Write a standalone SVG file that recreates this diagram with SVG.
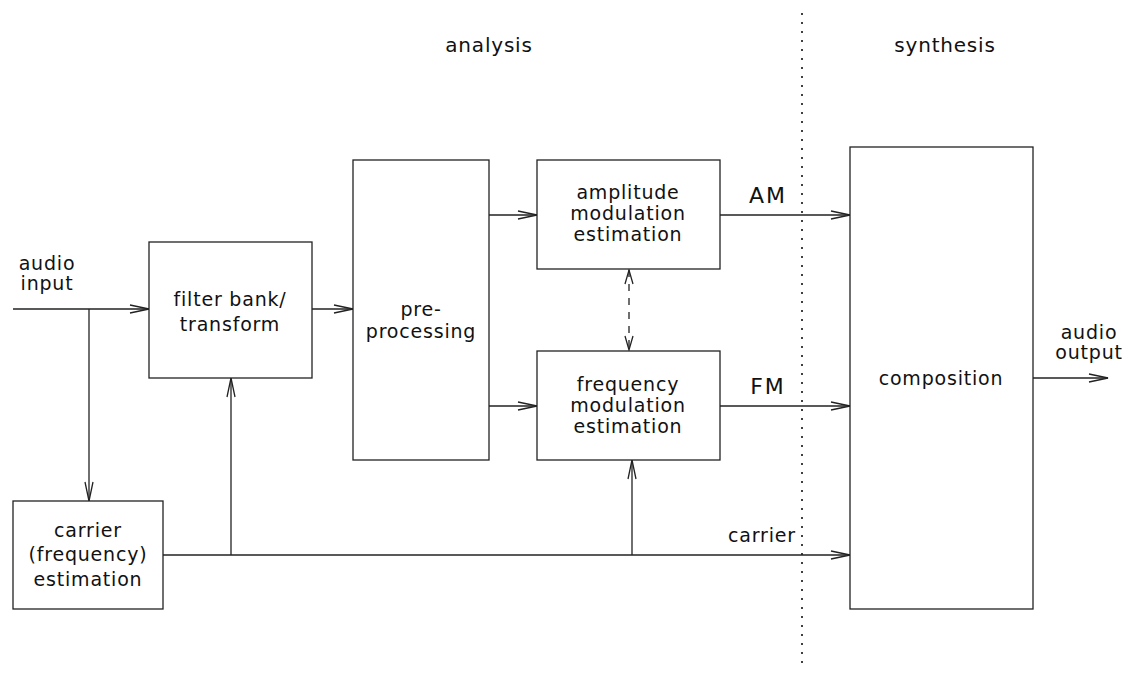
<svg xmlns="http://www.w3.org/2000/svg" width="1122" height="673" viewBox="0 0 1122 673">
  <style>
    .box { fill: #fff; stroke: #222; stroke-width: 1.3; }
    .wire { fill: none; stroke: #222; stroke-width: 1.3; }
    .dash { fill: none; stroke: #222; stroke-width: 1.3; stroke-dasharray: 7 7; }
    .divider { fill: none; stroke: #111; stroke-width: 1.6; stroke-dasharray: 2 7; }
    text { font-family: "DejaVu Sans", "Liberation Sans", sans-serif; font-size: 19px; letter-spacing: 0.8px; fill: #111; text-anchor: middle; }
    .head { font-size: 20px; }
    .sig { font-size: 22px; letter-spacing: 2px; }
  </style>
  <defs>
    <marker id="open" markerUnits="userSpaceOnUse" markerWidth="24" markerHeight="12" viewBox="-21 -6 24 12" refX="0" refY="0" orient="auto-start-reverse">
      <path d="M-19,-4 L0,0 L-19,4" fill="none" stroke="#222" stroke-width="1.3"/>
    </marker>
    <marker id="openSmall" markerUnits="userSpaceOnUse" markerWidth="18" markerHeight="12" viewBox="-15 -6 18 12" refX="0" refY="0" orient="auto-start-reverse">
      <path d="M-14,-4 L0,0 L-14,4" fill="none" stroke="#222" stroke-width="1.3"/>
    </marker>
  </defs>

  <!-- section headings and the analysis/synthesis divider -->
  <text class="head" x="489" y="52">analysis</text>
  <text class="head" x="945" y="52">synthesis</text>
  <line class="divider" x1="802" y1="13" x2="802" y2="670"/>

  <!-- connectors -->
  <g id="connectors">
    <line class="wire" x1="13" y1="309" x2="149" y2="309" marker-end="url(#open)"/>
    <line class="wire" x1="89" y1="309" x2="89" y2="501" marker-end="url(#open)"/>
    <line class="wire" x1="312" y1="309" x2="353" y2="309" marker-end="url(#open)"/>
    <line class="wire" x1="489" y1="215" x2="537" y2="215" marker-end="url(#open)"/>
    <line class="wire" x1="489" y1="406" x2="537" y2="406" marker-end="url(#open)"/>
    <line class="wire" x1="720" y1="215" x2="850" y2="215" marker-end="url(#open)"/>
    <line class="wire" x1="720" y1="406" x2="850" y2="406" marker-end="url(#open)"/>
    <line class="wire" x1="163" y1="555" x2="850" y2="555" marker-end="url(#open)"/>
    <line class="wire" x1="231" y1="555" x2="231" y2="378" marker-end="url(#open)"/>
    <line class="wire" x1="632" y1="555" x2="632" y2="460" marker-end="url(#open)"/>
    <line class="wire" x1="1033" y1="378" x2="1108" y2="378" marker-end="url(#open)"/>
    <line class="dash" x1="629" y1="270" x2="629" y2="350" marker-start="url(#openSmall)" marker-end="url(#openSmall)"/>
    <text x="47" y="270">audio</text>
    <text x="47" y="290">input</text>
    <text class="sig" x="768" y="203">AM</text>
    <text class="sig" x="768" y="394">FM</text>
    <text x="762" y="542">carrier</text>
    <text x="1089" y="339">audio</text>
    <text x="1089" y="359">output</text>
  </g>

  <g id="filterbank">
    <rect class="box" x="149" y="242" width="163" height="136"/>
    <text x="230" y="306">filter bank/</text>
    <text x="230" y="331">transform</text>
  </g>

  <g id="preprocessing">
    <rect class="box" x="353" y="160" width="136" height="300"/>
    <text x="421" y="316">pre-</text>
    <text x="421" y="338">processing</text>
  </g>

  <g id="am-estimation">
    <rect class="box" x="537" y="160" width="183" height="109"/>
    <text x="628" y="199">amplitude</text>
    <text x="628" y="220">modulation</text>
    <text x="628" y="241">estimation</text>
  </g>

  <g id="fm-estimation">
    <rect class="box" x="537" y="351" width="183" height="109"/>
    <text x="628" y="391">frequency</text>
    <text x="628" y="412">modulation</text>
    <text x="628" y="433">estimation</text>
  </g>

  <g id="carrier-estimation">
    <rect class="box" x="13" y="501" width="150" height="108"/>
    <text x="88" y="537">carrier</text>
    <text x="88" y="561">(frequency)</text>
    <text x="88" y="586">estimation</text>
  </g>

  <g id="composition">
    <rect class="box" x="850" y="147" width="183" height="462"/>
    <text x="941" y="385">composition</text>
  </g>
</svg>
